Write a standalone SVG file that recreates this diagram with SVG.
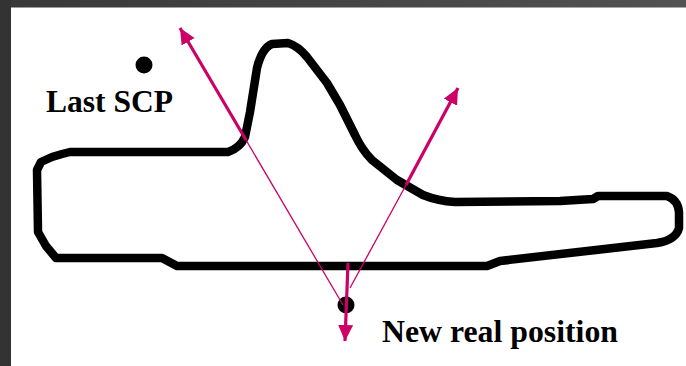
<svg xmlns="http://www.w3.org/2000/svg" width="686" height="366" viewBox="0 0 686 366">
  <style>
    .outline { fill: none; stroke: #000; stroke-width: 8.5; stroke-linejoin: round; stroke-linecap: round; }
    .ray-thin { fill: none; stroke: #cc0066; stroke-width: 1.3; }
    .ray-thick { fill: none; stroke: #cc0066; stroke-width: 3.2; }
    .dot { fill: #000; }
    .label { font-family: "Liberation Serif", "Times New Roman", serif; font-weight: bold; font-size: 31.5px; fill: #000; }
  </style>
  <defs>
    <linearGradient id="topband" x1="0" y1="0" x2="1" y2="0">
      <stop offset="0" stop-color="#383838"/>
      <stop offset="1" stop-color="#525252"/>
    </linearGradient>
    <marker id="head" markerUnits="userSpaceOnUse" markerWidth="18" markerHeight="16" refX="16" refY="7.5" orient="auto">
      <path d="M0,0 L16,7.5 L0,15 Z" fill="#cc0066"/>
    </marker>
  </defs>

  <rect x="0" y="0" width="686" height="366" fill="#ffffff"/>
  <rect x="0" y="0" width="686" height="7.5" fill="url(#topband)"/>
  <rect x="0" y="0" width="11" height="366" fill="#333333"/>

  <g id="shape">
    <path class="outline" d="M70,152 L228,152 Q240,148 245,137 L250,112 L257,68 Q262,48 272,44 L288,43 Q298,46 307,57 L327,83 L340,105 L355,135 Q362,150 372,160 L397,180 L423,195 Q438,201 455,202 L560,201 L593,199 L598,196 L667,196 Q678,200 679,212 L679,228 Q676,240 657,243 L500,261 L487,266 L177,266 L162,258 L56,258 L46,246 L38,232 L37,170 L41,162 L52,157 L62,154 Z"/>
  </g>

  <g id="last-scp">
    <circle class="dot" cx="144" cy="65" r="8.5"/>
    <text class="label" x="46" y="112" textLength="127" lengthAdjust="spacingAndGlyphs">Last SCP</text>
  </g>

  <g id="new-real-position">
    <circle class="dot" cx="346" cy="305" r="8.5"/>
    <text class="label" x="382" y="342" textLength="236" lengthAdjust="spacingAndGlyphs">New real position</text>
  </g>

  <g id="connectors">
    <line class="ray-thin" x1="343" y1="305" x2="246" y2="140"/>
    <line class="ray-thick" x1="246" y1="140" x2="180" y2="28" marker-end="url(#head)"/>
    <line class="ray-thin" x1="350" y1="288" x2="406" y2="185"/>
    <line class="ray-thick" x1="406" y1="185" x2="458" y2="88" marker-end="url(#head)"/>
    <line class="ray-thick" x1="348" y1="263" x2="345" y2="341" marker-end="url(#head)"/>
  </g>
</svg>
